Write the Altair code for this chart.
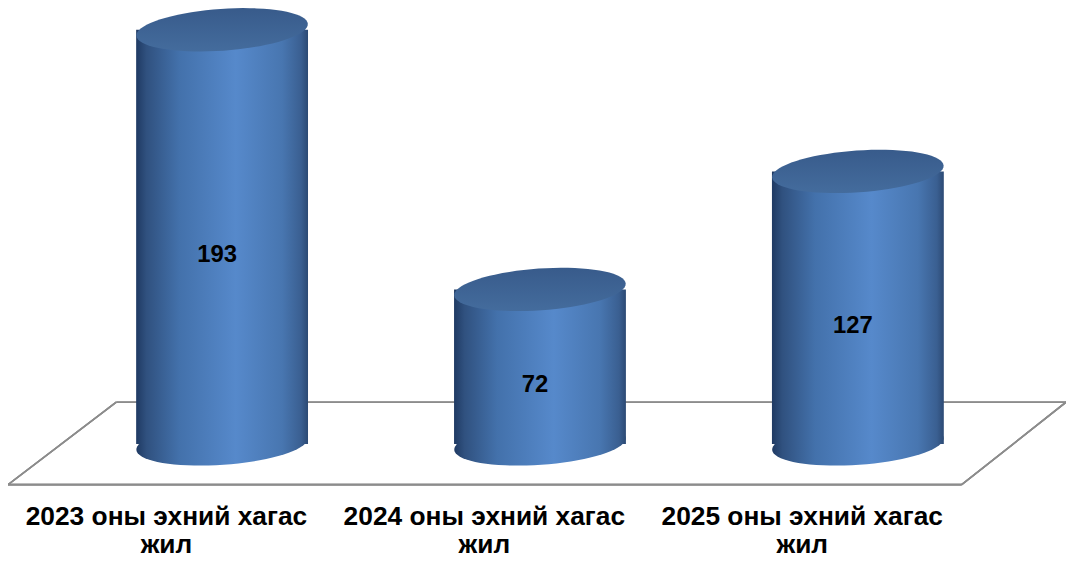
import altair as alt
import numpy as np
import pandas as pd

# ---- data ----
categories = ["2023 оны эхний хагас жил", "2024 оны эхний хагас жил", "2025 оны эхний хагас жил"]
values = [193, 72, 127]
label_lines = [["2023 оны эхний хагас", "жил"], ["2024 оны эхний хагас", "жил"], ["2025 оны эхний хагас", "жил"]]

df = pd.DataFrame({"cat": categories, "value": values, "label": label_lines})

# ---- ellipse symbol path (unit size, slightly tilted) ----
phi = np.deg2rad(4.0)
ratio = 0.243
t = np.linspace(0, 2 * np.pi, 73)[:-1]
ex = np.cos(t)
ey = ratio * np.sin(t)
rx = ex * np.cos(phi) + ey * np.sin(phi)
ry = -ex * np.sin(phi) + ey * np.cos(phi)
ellipse_path = "M " + " L ".join(f"{a:.4f} {b:.4f}" for a, b in zip(rx, ry)) + " Z"

BAR_W = 173

x_enc = alt.X("cat:N", sort=categories,
              scale=alt.Scale(type="point", domain=categories, range=[215.5, 855.5],
                              padding=0),
              axis=None)
y_scale = alt.Scale(domain=[0, 200], range=[437, 5], nice=False, zero=True)

body_grad = alt.Gradient(
    gradient="linear", x1=0, x2=1, y1=0, y2=0,
    stops=[
        alt.GradientStop(offset=0.0, color="#1f3a63"),
        alt.GradientStop(offset=0.06, color="#30517f"),
        alt.GradientStop(offset=0.25, color="#4371ab"),
        alt.GradientStop(offset=0.58, color="#5689cb"),
        alt.GradientStop(offset=0.85, color="#4876b0"),
        alt.GradientStop(offset=0.96, color="#3a5f91"),
        alt.GradientStop(offset=1.0, color="#2c4a74"),
    ],
)
top_grad = alt.Gradient(
    gradient="linear", x1=0, x2=0, y1=0, y2=1,
    stops=[
        alt.GradientStop(offset=0.0, color="#385b8b"),
        alt.GradientStop(offset=1.0, color="#446c9d"),
    ],
)

base = alt.Chart(df)

# floor (decorative outline)
floor_color = "#8c8c8c"
floor = [
    base.mark_rule(color=floor_color, strokeWidth=1.6).encode(
        x=alt.value(0), x2=alt.value(960), y=alt.value(478), y2=alt.value(478)),
    base.mark_rule(color=floor_color, strokeWidth=1.6).encode(
        x=alt.value(109), x2=alt.value(1065), y=alt.value(395), y2=alt.value(395)),
    base.mark_rule(color=floor_color, strokeWidth=1.6).encode(
        x=alt.value(0), x2=alt.value(109), y=alt.value(478), y2=alt.value(395)),
    base.mark_rule(color=floor_color, strokeWidth=1.6).encode(
        x=alt.value(960), x2=alt.value(1065), y=alt.value(478), y2=alt.value(395)),
]

bottom = base.mark_point(shape=ellipse_path, filled=True, fill=body_grad,
                         opacity=1, strokeWidth=0, size=BAR_W ** 2).encode(
    x=x_enc, y=alt.Y("zero:Q", scale=y_scale, axis=None)
).transform_calculate(zero="0")

body = base.mark_bar(size=BAR_W, fill=body_grad, strokeWidth=0).encode(
    x=x_enc,
    y=alt.Y("value:Q", scale=y_scale, axis=None),
    y2=alt.datum(0),
)

top = base.mark_point(shape=ellipse_path, filled=True, fill=top_grad,
                      opacity=1, strokeWidth=0, size=BAR_W ** 2).encode(
    x=x_enc, y=alt.Y("value:Q", scale=y_scale, axis=None)
)

vals = base.mark_text(font="Liberation Sans", fontWeight="bold", fontSize=24,
                      color="#000000", baseline="middle", align="center",
                      dx=-5, dy=18).encode(
    x=x_enc, y=alt.Y("half:Q", scale=y_scale, axis=None),
    text=alt.Text("value:Q")
).transform_calculate(half="datum.value / 2")

cat_labels = base.mark_text(font="Liberation Sans", fontWeight="bold", fontSize=26.5,
                            color="#000000", baseline="alphabetic", align="center",
                            lineHeight=28, dx=-56).encode(
    x=x_enc, y=alt.value(519), text="label"
)

chart = alt.layer(*floor, bottom, body, top, vals, cat_labels).properties(
    width=1065, height=550,
    autosize=alt.AutoSizeParams(type="none"),
    padding=0,
    background="#ffffff",
).configure_view(strokeWidth=0, stroke="transparent")

chart.save("out.html", embed_options={"renderer": "svg", "actions": False})
